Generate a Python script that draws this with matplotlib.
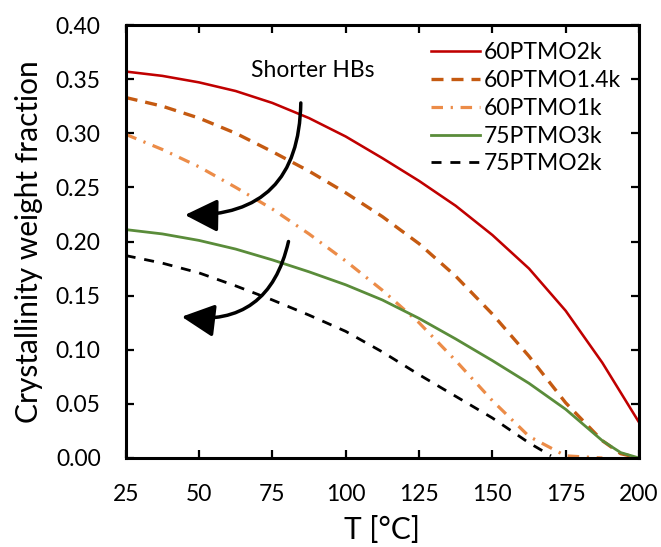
import matplotlib
matplotlib.use("Agg")
import matplotlib.pyplot as plt

plt.rcParams['font.family'] = ['Lato', 'DejaVu Sans']

# ---- data ----
T = [25, 37.5, 50, 62.5, 75, 87.5, 100, 112.5, 125, 137.5, 150, 162.5, 175, 187.5, 200]
ptmo60_2k = [0.357, 0.353, 0.347, 0.339, 0.328, 0.314, 0.297, 0.277, 0.256, 0.233, 0.206,
             0.175, 0.136, 0.088, 0.033]

T_60_14k = [25, 37.5, 50, 62.5, 75, 87.5, 100, 112.5, 125, 137.5, 150, 162.5, 175, 187.5,
            193.75, 200]
ptmo60_14k = [0.333, 0.325, 0.314, 0.300, 0.283, 0.265, 0.245, 0.223, 0.198, 0.168, 0.133,
              0.094, 0.051, 0.016, 0.004, 0.000]

T_60_1k = [25, 37.5, 50, 62.5, 75, 87.5, 100, 112.5, 125, 137.5, 150, 162.5, 175, 187.5]
ptmo60_1k = [0.299, 0.285, 0.269, 0.250, 0.230, 0.207, 0.182, 0.155, 0.125, 0.090, 0.053,
             0.020, 0.002, 0.000]

T_75_3k = [25, 37.5, 50, 62.5, 75, 87.5, 100, 112.5, 125, 137.5, 150, 162.5, 175, 187.5,
           193.75, 200]
ptmo75_3k = [0.211, 0.207, 0.201, 0.193, 0.183, 0.172, 0.160, 0.146, 0.129, 0.110, 0.090,
             0.069, 0.045, 0.016, 0.005, 0.000]

T_75_2k = [25, 37.5, 50, 62.5, 75, 87.5, 100, 112.5, 125, 137.5, 150, 162.5, 170]
ptmo75_2k = [0.187, 0.180, 0.171, 0.159, 0.146, 0.132, 0.117, 0.098, 0.077, 0.057, 0.037,
             0.014, 0.002]

labels = ["60PTMO2k", "60PTMO1.4k", "60PTMO1k", "75PTMO3k", "75PTMO2k"]
x_ticks = [25, 50, 75, 100, 125, 150, 175, 200]
y_ticks = [0.00, 0.05, 0.10, 0.15, 0.20, 0.25, 0.30, 0.35, 0.40]

# ---- figure ----
W, H = 661, 547
fig = plt.figure(figsize=(W / 100, H / 100), dpi=100)
ax = fig.add_axes([125.7 / W, 1 - 458 / H, (639 - 125.7) / W, (458 - 25) / H])

ax.plot(T, ptmo60_2k, color='#C00000', lw=1.85, label=labels[0])
ax.plot(T_60_14k, ptmo60_14k, color='#C55A11', lw=2.4, dashes=(3.6, 2.4), label=labels[1])
ax.plot(T_60_1k, ptmo60_1k, color='#EC8C48', lw=2.3,
        dashes=(3.6, 2.4, 0.7, 2.4), label=labels[2])
ax.plot(T_75_3k, ptmo75_3k, color='#5A8C3A', lw=2.0, label=labels[3])
ax.plot(T_75_2k, ptmo75_2k, color='black', lw=2.0, dashes=(3.6, 3.2), label=labels[4])

ax.set_xlim(25, 200)
ax.set_ylim(0, 0.40)
ax.set_xticks(x_ticks)
ax.set_yticks(y_ticks)
ax.set_yticklabels([f"{v:.2f}" for v in y_ticks])
ax.tick_params(direction='in', length=6, width=1.6, top=True, right=True,
               labelsize=16.5, colors='black')
ax.tick_params(axis='y', pad=18)
ax.tick_params(axis='x', pad=19)
for s in ax.spines.values():
    s.set_linewidth(2.2)

ax.set_xlabel("T [°C]", fontsize=21.5, labelpad=7.5)
ax.set_ylabel("Crystallinity weight fraction", fontsize=21.5, labelpad=9)

leg = ax.legend(loc='upper left', bbox_to_anchor=(431 / W, 1 - 42 / H),
                bbox_transform=fig.transFigure, frameon=False, fontsize=16.5,
                handlelength=2.15, handletextpad=0.15, labelspacing=0.3,
                borderpad=0, borderaxespad=0)

# annotation
ax.text(88.9, 0.358, "Shorter HBs", fontsize=16.5, ha='center', va='center')
arrow_kw = dict(arrowstyle='-|>,head_length=0.8,head_width=0.4', color='black',
                lw=2.5, mutation_scale=25, shrinkA=0, shrinkB=0)
ax.annotate("", xy=(45.2, 0.2245), xytext=(84.7, 0.328),
            arrowprops=dict(connectionstyle="arc3,rad=-0.5", **arrow_kw))
ax.annotate("", xy=(44.1, 0.1305), xytext=(80.5, 0.200),
            arrowprops=dict(connectionstyle="arc3,rad=-0.45", **arrow_kw))

fig.savefig("out.png", dpi=100)
